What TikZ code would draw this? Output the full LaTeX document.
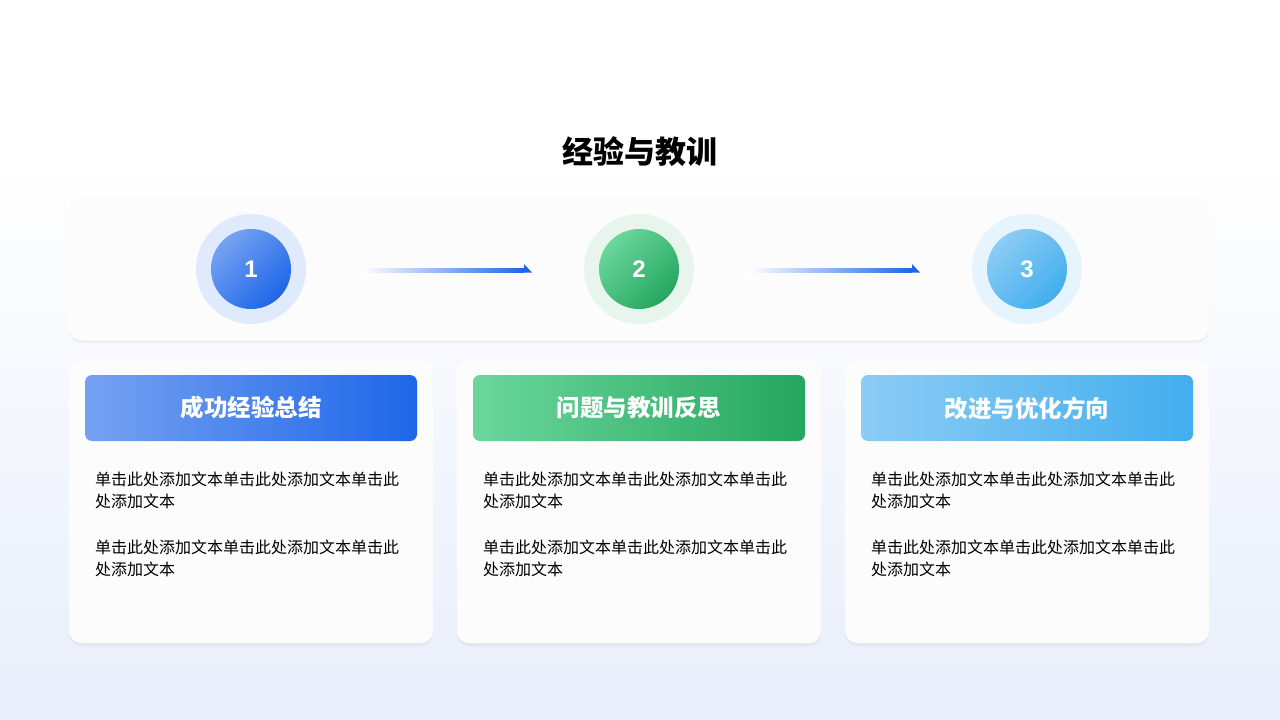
\documentclass[tikz,border=0pt]{standalone}
\usepackage{fontspec}
\setmainfont{Noto Sans CJK SC}
\newfontfamily\numfont{Liberation Sans}
\usetikzlibrary{shadows,positioning}
\definecolor{bgbot}{HTML}{E8EEFB}
\definecolor{blueA}{HTML}{76A2F2}\definecolor{blueB}{HTML}{1E66E8}
\definecolor{greenA}{HTML}{6BD79C}\definecolor{greenB}{HTML}{25A65F}
\definecolor{skyA}{HTML}{8CCCF5}\definecolor{skyB}{HTML}{42AEEE}
\begin{document}
\begin{tikzpicture}[x=1pt,y=-1pt,
  panel/.style={fill=white!98!gray,rounded corners=12pt,drop shadow={opacity=0.08,shadow xshift=0pt,shadow yshift=-3pt}},
  head/.style={rounded corners=7pt,minimum width=332pt,minimum height=66pt,font=\bfseries\fontsize{23.5}{26}\selectfont,text=white},
  body/.style={anchor=north west,align=left,font=\fontsize{16}{22}\selectfont,inner sep=0pt},
  halo/.style={circle,minimum size=110pt,inner sep=0pt},
  num/.style={circle,minimum size=80pt,inner sep=0pt,text=white,font=\numfont\bfseries\fontsize{24}{24}\selectfont}]
  \useasboundingbox (0,0) rectangle (1280,720);
  \shade[top color=white,bottom color=bgbot] (0,160) rectangle (1280,720);
  \fill[white] (0,0) rectangle (1280,160);
  \node[font=\bfseries\fontsize{31}{34}\selectfont] (title) at (640,152) {经验与教训};
  % step row
  \fill[panel] (69,197) rectangle (1209,340);
  \node[halo,fill=blueB!14] (h1) at (251,269) {};
  \node[halo,fill=greenB!11] (h2) at (639,269) {};
  \node[halo,fill=skyB!13] (h3) at (1027,269) {};
  \node[num,left color=blueA,right color=blueB,shading angle=45] (n1) at (h1) {1};
  \node[num,left color=greenA,right color=greenB,shading angle=45] (n2) at (h2) {2};
  \node[num,left color=skyA,right color=skyB,shading angle=45] (n3) at (h3) {3};
  \foreach \a/\b in {362/524,748/912}{
    \shade[left color=white,right color=blueB] (\a,268.5) rectangle (\b,272.5);
    \fill[blueB] (\b,264) -- (\b+8,272.5) -- (\b,272.5) -- cycle;
  }
  % cards
  \foreach \x/\ca/\cb/\t [count=\i] in {69/blueA/blueB/成功经验总结,457/greenA/greenB/问题与教训反思,845/skyA/skyB/改进与优化方向}{
    \fill[panel] (\x,360) rectangle (\x+364,643);
    \node[head,left color=\ca,right color=\cb] (c\i) at (\x+182,408) {\t};
    \node[body] (p\i) at (\x+26,472) {单击此处添加文本单击此处添加文本单击此\\处添加文本};
    \node[body,below=30pt of p\i.south west,anchor=north west] (q\i) {单击此处添加文本单击此处添加文本单击此\\处添加文本};
  }
\end{tikzpicture}
\end{document}
